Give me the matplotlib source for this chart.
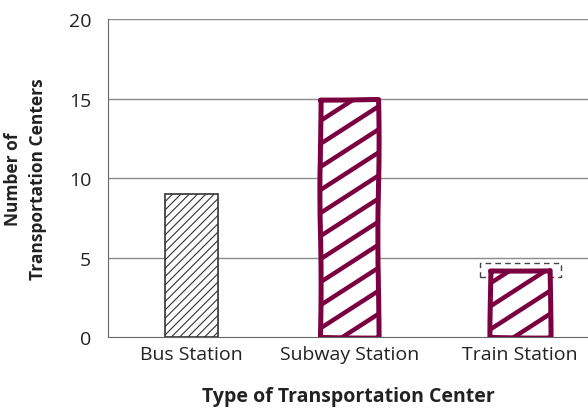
import matplotlib.pyplot as plt
import numpy as np

# data
categories = ["Bus Station", "Subway Station", "Train Station"]
positions = [0, 1, 2.08]
counts = [9, 15, 4.2]
widths = [0.335, 0.37, 0.38]
# dashed outline near the train bar
dash_low, dash_high = 3.77, 4.65

maroon = "#7a0040"
plt.rcParams["font.family"] = ["Open Sans", "DejaVu Sans"]

fig = plt.figure(figsize=(5.88, 4.14), dpi=100)
ax = fig.add_axes([0.1837, 0.1836, 0.8163, 0.768])

ax.set_xlim(-0.525, 2.51)
ax.set_ylim(0, 20)

# grid lines
for y in [5, 10, 15, 20]:
    ax.axhline(y, color="#8a8a8a", linewidth=1.0, zorder=0)

# bus station: thin black hatch
with plt.rc_context({"hatch.linewidth": 0.8, "hatch.color": "#222222"}):
    ax.bar(positions[0], counts[0], width=widths[0], facecolor="white",
           edgecolor="#333333", linewidth=1.2, hatch="////", zorder=2)

# subway + train: thick maroon, hand-drawn look
for i in [1, 2]:
    bars = ax.bar(positions[i], counts[i], width=widths[i], facecolor="white",
                  edgecolor=maroon, linewidth=3.6, zorder=3)
    rect = bars[0]
    rect.set_joinstyle("round")
    rect.set_sketch_params(scale=0.6, length=250, randomness=3)
    # diagonal hatch lines, ~33 deg on screen
    x0 = positions[i] - widths[i] / 2
    x1 = positions[i] + widths[i] / 2
    slope = 0.645 * (158 / 15.9)
    step = 1.45
    for b in np.arange(-slope * (x1 - x0), counts[i] + step, step):
        line, = ax.plot([x0, x1], [b, b + slope * (x1 - x0)], color=maroon,
                        linewidth=3.2, solid_capstyle="butt", zorder=4)
        line.set_clip_path(rect)

# dashed box
ax.plot([1.83, 2.34, 2.34, 1.83, 1.83],
        [dash_low, dash_low, dash_high, dash_high, dash_low],
        color="#444444", linestyle=(0, (4, 3)), linewidth=1.0, zorder=1)

ax.spines["right"].set_visible(False)
ax.spines["top"].set_visible(False)
ax.spines["left"].set_color("#666666")
ax.spines["bottom"].set_color("#666666")

ax.set_yticks([0, 5, 10, 15, 20])
ax.set_xticks(positions)
ax.set_xticklabels(categories)
ax.tick_params(length=0, labelsize=14, colors="#222222")
ax.tick_params(axis="y", pad=12)
ax.tick_params(axis="x", pad=6)

ax.set_xlabel("Type of Transportation Center", fontsize=14, fontweight="bold",
              labelpad=16, color="#222222")
ax.set_ylabel("Number of\nTransportation Centers", fontsize=12.5,
              fontweight="bold", labelpad=16, color="#222222", linespacing=1.5)

fig.savefig("out.png", dpi=100)
